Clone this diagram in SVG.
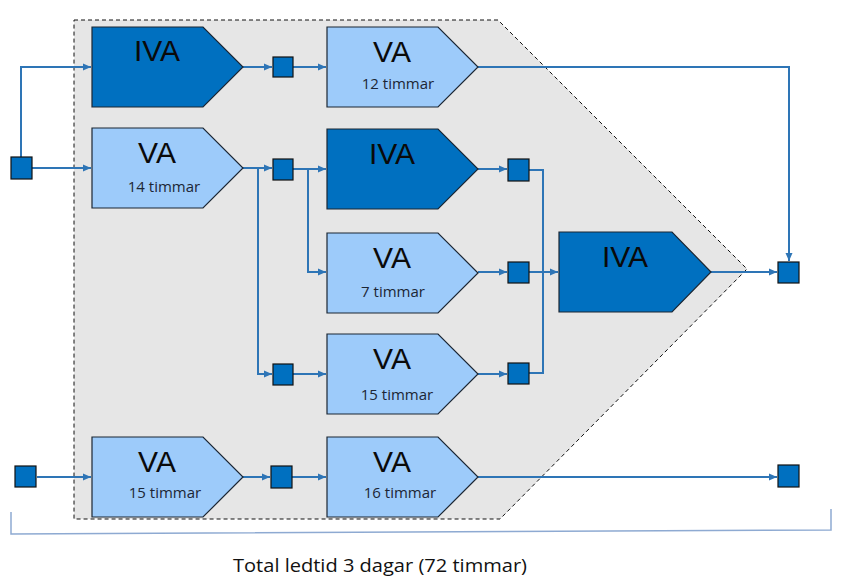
<svg xmlns="http://www.w3.org/2000/svg" width="847" height="581" viewBox="0 0 847 581">
<defs>
<style>
.dark{fill:#0070c0;stroke:#1b2633;stroke-width:1.2}
.light{fill:#9dcbfa;stroke:#1b2633;stroke-width:1.2}
.sq{fill:#0070c0;stroke:#111;stroke-width:1.2}
.big{font-family:"Liberation Sans",Arial,sans-serif;font-size:30px;fill:#0a0a0a;text-anchor:middle}
.small{font-family:"Open Sans","Noto Sans",sans-serif;font-size:15px;fill:#1c2635;text-anchor:middle}
.conn path{fill:none;stroke:#2e75b6;stroke-width:2}
</style>
<marker id="arr" markerUnits="userSpaceOnUse" markerWidth="9" markerHeight="8" refX="8" refY="4" orient="auto">
<path d="M0,0.5 L8,4 L0,7.5 z" fill="#2e75b6"/>
</marker>
</defs>
<rect width="847" height="581" fill="#fff"/>
<polygon id="region" points="74,20 498,20 747,269 500,519 74,519" fill="#e6e6e6" stroke="#111" stroke-width="1" stroke-dasharray="4,3"/>

<g id="connectors" class="conn">
<path d="M21,157 V67 H91" marker-end="url(#arr)"/>
<path d="M32,168 H91" marker-end="url(#arr)"/>
<path d="M243,67 H272" marker-end="url(#arr)"/>
<path d="M293,67 H326" marker-end="url(#arr)"/>
<path d="M478,67 H789 V261" marker-end="url(#arr)"/>
<path d="M243,168 H272" marker-end="url(#arr)"/>
<path d="M258,168 V374 H272" marker-end="url(#arr)"/>
<path d="M293,169 H326" marker-end="url(#arr)"/>
<path d="M308,169 V272 H326" marker-end="url(#arr)"/>
<path d="M478,169 H507" marker-end="url(#arr)"/>
<path d="M529,170 H543 V373 H529"/>
<path d="M529,272 H558" marker-end="url(#arr)"/>
<path d="M478,272 H507" marker-end="url(#arr)"/>
<path d="M478,374 H507" marker-end="url(#arr)"/>
<path d="M293,374 H326" marker-end="url(#arr)"/>
<path d="M711,272 H777" marker-end="url(#arr)"/>
<path d="M37,477 H91" marker-end="url(#arr)"/>
<path d="M243,477 H270" marker-end="url(#arr)"/>
<path d="M292,477 H326" marker-end="url(#arr)"/>
<path d="M478,477 H777" marker-end="url(#arr)"/>
</g>

<g id="n1"><path class="dark" d="M92,27 h111 l40,40 l-40,40 h-111 z"/><text class="big" x="157" y="61">IVA</text></g>
<g id="n2"><path class="light" d="M92,128 h111 l40,40 l-40,40 h-111 z"/><text class="big" x="157" y="163">VA</text><text class="small" x="164" y="192">14 timmar</text></g>
<g id="n3"><path class="light" d="M327,27 h111 l40,40 l-40,40 h-111 z"/><text class="big" x="392" y="62">VA</text><text class="small" x="398" y="89">12 timmar</text></g>
<g id="n4"><path class="dark" d="M327,129 h111 l40,40 l-40,40 h-111 z"/><text class="big" x="392" y="164">IVA</text></g>
<g id="n5"><path class="light" d="M327,233 h111 l40,40 l-40,40 h-111 z"/><text class="big" x="392" y="268">VA</text><text class="small" x="393" y="297">7 timmar</text></g>
<g id="n6"><path class="light" d="M327,334 h111 l40,40 l-40,40 h-111 z"/><text class="big" x="392" y="369">VA</text><text class="small" x="397" y="400">15 timmar</text></g>
<g id="n7"><path class="dark" d="M559,232 h113 l39,40 l-39,40 h-113 z"/><text class="big" x="625" y="267">IVA</text></g>
<g id="n8"><path class="light" d="M92,437 h111 l40,40 l-40,40 h-111 z"/><text class="big" x="157" y="472">VA</text><text class="small" x="165" y="498">15 timmar</text></g>
<g id="n9"><path class="light" d="M327,437 h111 l40,40 l-40,40 h-111 z"/><text class="big" x="392" y="472">VA</text><text class="small" x="400" y="498">16 timmar</text></g>

<g id="s0"><rect class="sq" x="11" y="157" width="21" height="22"/></g>
<g id="s1"><rect class="sq" x="273" y="57" width="20" height="20"/></g>
<g id="s2"><rect class="sq" x="273" y="159" width="20" height="21"/></g>
<g id="s3"><rect class="sq" x="508" y="159" width="21" height="22"/></g>
<g id="s4"><rect class="sq" x="508" y="262" width="21" height="21"/></g>
<g id="s5"><rect class="sq" x="508" y="363" width="21" height="21"/></g>
<g id="s6"><rect class="sq" x="273" y="364" width="20" height="21"/></g>
<g id="s7"><rect class="sq" x="778" y="262" width="21" height="21"/></g>
<g id="s8"><rect class="sq" x="15" y="466" width="21" height="21"/></g>
<g id="s9"><rect class="sq" x="271" y="466" width="21" height="22"/></g>
<g id="s10"><rect class="sq" x="778" y="465" width="21" height="22"/></g>

<g id="bracket"><path d="M11,512 V534 L831,530 V509" fill="none" stroke="#8eaad2" stroke-width="1.5"/></g>
<text id="total" x="380" y="572" font-family="Open Sans,Noto Sans,sans-serif" font-size="18" fill="#111" text-anchor="middle" textLength="294" lengthAdjust="spacingAndGlyphs">Total ledtid 3 dagar (72 timmar)</text>
</svg>
